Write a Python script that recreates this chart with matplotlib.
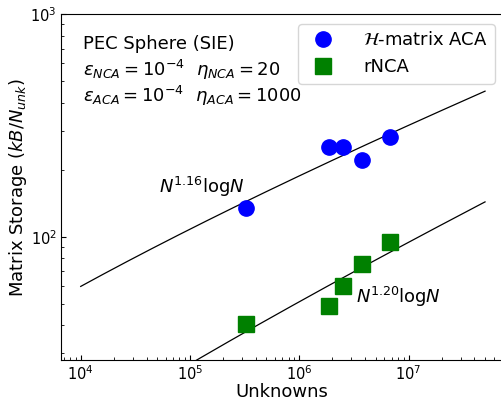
import numpy as np
import matplotlib
matplotlib.use("Agg")
import matplotlib.pyplot as plt

# data
unknowns = [3.27e5, 1.85e6, 2.53e6, 3.78e6, 6.7e6]
hmatrix_aca = [135, 253, 253, 221, 281]
rnca = [40.7, 49, 60, 75.7, 95]

# fitted trend lines: c * N^a * log N (per unknown)
fit_n = np.logspace(4, np.log10(5e7), 200)
fit_aca_coef, fit_aca_exp = 1.49, 0.16
fit_nca_coef, fit_nca_exp = 0.2335, 0.20

fig = plt.figure(figsize=(5.01, 4.03), dpi=100)
ax = fig.add_axes([61/501, 43/403, 442/501, 346/403])

ax.plot(fit_n, fit_aca_coef * fit_n**fit_aca_exp * np.log(fit_n), color='black', lw=0.9)
ax.plot(fit_n, fit_nca_coef * fit_n**fit_nca_exp * np.log(fit_n), color='black', lw=0.9)
ax.plot(unknowns, hmatrix_aca, 'o', color='blue', markersize=11, label=r'$\mathcal{H}$-matrix ACA')
ax.plot(unknowns, rnca, 's', color='green', markersize=11, label='rNCA')

ax.set_xscale('log')
ax.set_yscale('log')
ax.set_xlim(6.6e3, 7.3e7)
ax.set_ylim(28, 1000)
ax.spines['right'].set_visible(False)
ax.tick_params(which='both', direction='in', labelsize=10.5)
ax.tick_params(which='major', length=3.5, pad=3)
ax.tick_params(which='minor', length=2)
ax.set_xlabel('Unknowns', fontsize=13, labelpad=0)
ax.set_ylabel(r'Matrix Storage ($kB/N_{unk}$)', fontsize=13, labelpad=1)

ax.text(0.05, 0.913, 'PEC Sphere (SIE)', transform=ax.transAxes, fontsize=13, va='center')
ax.text(0.05, 0.838, r'$\varepsilon_{NCA}=10^{-4}\ \ \eta_{NCA}=20$', transform=ax.transAxes, fontsize=13, va='center')
ax.text(0.05, 0.763, r'$\varepsilon_{ACA}=10^{-4}\ \ \eta_{ACA}=1000$', transform=ax.transAxes, fontsize=13, va='center')
ax.text(1.29e5, 167, r'$N^{1.16}\mathrm{log}N$', fontsize=13, ha='center', va='center')
ax.text(8.1e6, 53.8, r'$N^{1.20}\mathrm{log}N$', fontsize=13, ha='center', va='center')

ax.legend(loc='upper right', fontsize=13, bbox_to_anchor=(1.002, 0.997), handletextpad=1.2, borderpad=0.4)

fig.savefig('out.png', dpi=100)
